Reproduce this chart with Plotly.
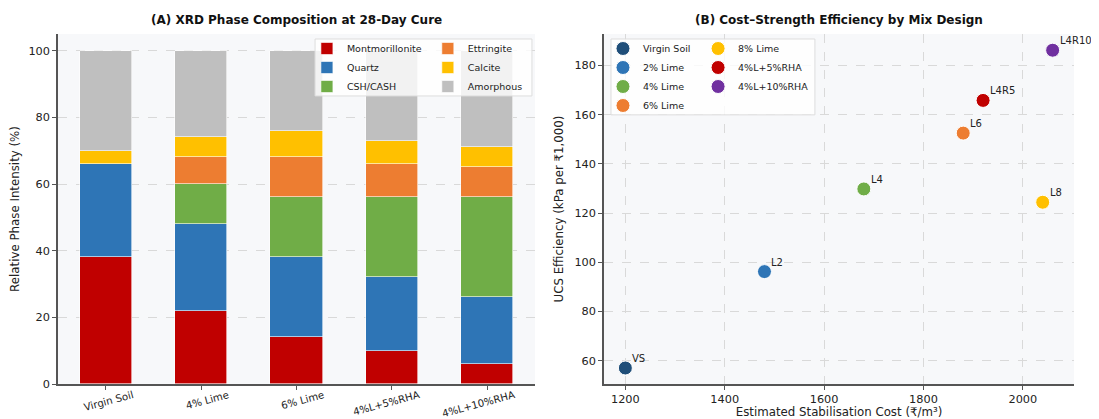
import plotly.graph_objects as go

# ---------------- Data ----------------
mixes = ["Virgin Soil", "4% Lime", "6% Lime", "4%L+5%RHA", "4%L+10%RHA"]
phase_names = ["Montmorillonite", "Quartz", "CSH/CASH", "Ettringite", "Calcite", "Amorphous"]
montmorillonite = [38, 22, 14, 10, 6]
quartz = [28, 26, 24, 22, 20]
csh_cash = [0, 12, 18, 24, 30]
ettringite = [0, 8, 12, 10, 9]
calcite = [4, 6, 8, 7, 6]
amorphous = [30, 26, 24, 27, 29]
phase_colors = ["#c00000", "#2e75b6", "#70ad47", "#ed7d31", "#ffc000", "#bfbfbf"]

design_names = ["Virgin Soil", "2% Lime", "4% Lime", "6% Lime", "8% Lime", "4%L+5%RHA", "4%L+10%RHA"]
design_codes = ["VS", "L2", "L4", "L6", "L8", "L4R5", "L4R10"]
cost = [1200, 1480, 1680, 1880, 2040, 1920, 2060]
ucs_eff = [57.0, 96.2, 129.8, 152.5, 124.4, 165.8, 186.2]
design_colors = ["#1f4e79", "#2e75b6", "#70ad47", "#ed7d31", "#ffc000", "#c00000", "#7030a0"]

y_ticks_a = [0, 20, 40, 60, 80, 100]
x_ticks_b = [1200, 1400, 1600, 1800, 2000]
y_ticks_b = [60, 80, 100, 120, 140, 160, 180]

FONT = "DejaVu Sans"
AXIS_COL = "#555555"
GRID_COL = "#d9d9d9"
BG = "#f7f8fa"
TICK_FONT = dict(family=FONT, size=11.3, color="#222222")
TITLE_FONT = dict(family=FONT, size=11.8, color="#222222")

fig = go.Figure()

phase_values = [montmorillonite, quartz, csh_cash, ettringite, calcite, amorphous]
for i, (name, vals, col) in enumerate(zip(phase_names, phase_values, phase_colors)):
    fig.add_trace(go.Bar(
        x=list(range(len(mixes))), y=vals, name=name,
        marker=dict(color=col, line=dict(width=0.6, color="white")),
        width=0.55, xaxis="x", yaxis="y",
        legend="legend" if i < 3 else "legend2",
    ))

for i, (nm, cx, cy, col) in enumerate(zip(design_names, cost, ucs_eff, design_colors)):
    fig.add_trace(go.Scatter(
        x=[cx], y=[cy], mode="markers", name=nm,
        marker=dict(size=14, color=col, line=dict(width=1, color="white")),
        xaxis="x2", yaxis="y2",
        legend="legend3" if i < 4 else "legend4",
    ))

annotations = []
for code, cx, cy in zip(design_codes, cost, ucs_eff):
    annotations.append(dict(
        x=cx, y=cy, xref="x2", yref="y2", text=code, showarrow=False,
        xanchor="left", yanchor="bottom", xshift=5, yshift=2,
        font=dict(family=FONT, size=10, color="#222222"),
    ))

annotations += [
    dict(text="<b>(A) XRD Phase Composition at 28-Day Cure</b>", x=0.2347, y=1.0, xref="paper", yref="paper",
         xanchor="center", yanchor="bottom", yshift=5, showarrow=False,
         font=dict(family=FONT, size=12, color="#111111")),
    dict(text="<b>(B) Cost–Strength Efficiency by Mix Design</b>", x=0.7687, y=1.0, xref="paper", yref="paper",
         xanchor="center", yanchor="bottom", yshift=5, showarrow=False,
         font=dict(family=FONT, size=12, color="#111111")),
]

axis_common = dict(
    showline=True, linecolor=AXIS_COL, linewidth=1.5, mirror=False,
    ticks="outside", ticklen=4, tickcolor=AXIS_COL, tickwidth=1,
    zeroline=False, automargin=False,
)

legend_common = dict(
    bgcolor="rgba(0,0,0,0)", borderwidth=0,
    font=dict(family=FONT, size=9.5, color="#222222"),
    xanchor="left", yanchor="top", xref="paper", yref="paper",
    tracegroupgap=0, itemwidth=30, traceorder="normal",
)

# the page body has an 8px margin, so the figure is drawn 8px smaller
fig.update_layout(
    width=1091, height=411,
    margin=dict(l=50, r=25, t=26, b=35, autoexpand=False),
    paper_bgcolor="white", plot_bgcolor=BG,
    barmode="stack", bargap=0,
    font=dict(family=FONT, size=10, color="#222222"),
    xaxis=dict(domain=[0, 0.4695], range=[-0.5025, 4.5025],
               tickmode="array", tickvals=list(range(len(mixes))), ticktext=mixes,
               tickangle=-15, ticklabelshift=27, ticklabelstandoff=-4, showgrid=False,
               tickfont=dict(family=FONT, size=10.2, color="#222222"), **axis_common),
    yaxis=dict(range=[0, 105], tickvals=y_ticks_a, showgrid=True, gridcolor=GRID_COL,
               griddash="dash", gridwidth=0.8, tickfont=TICK_FONT,
               title=dict(text="Relative Phase Intensity (%)", font=TITLE_FONT, standoff=10),
               **axis_common),
    xaxis2=dict(domain=[0.5374, 1], range=[1157, 2103], tickvals=x_ticks_b, showgrid=True,
                gridcolor=GRID_COL, griddash="dash", gridwidth=0.8, anchor="y2", tickfont=TICK_FONT,
                title=dict(text="Estimated Stabilisation Cost (₹/m³)", font=TITLE_FONT, standoff=4),
                **axis_common),
    yaxis2=dict(range=[50.5, 192.8], tickvals=y_ticks_b, showgrid=True, gridcolor=GRID_COL,
                griddash="dash", gridwidth=0.8, anchor="x2", tickfont=TICK_FONT,
                title=dict(text="UCS Efficiency (kPa per ₹1,000)", font=TITLE_FONT, standoff=8),
                **axis_common),
    legend=dict(x=0.245, y=1.0, **legend_common),
    legend2=dict(x=0.364, y=1.0, **legend_common),
    legend3=dict(x=0.5364, y=1.0, **legend_common),
    legend4=dict(x=0.630, y=1.0, **legend_common),
    annotations=annotations,
    shapes=[
        dict(type="rect", xref="paper", yref="paper", x0=0.253, x1=0.4665, y0=0.823, y1=0.9857,
             fillcolor="rgba(255,255,255,0.8)", line=dict(color="#dddddd", width=1), layer="above"),
        dict(type="rect", xref="paper", yref="paper", x0=0.5443, x1=0.745, y0=0.769, y1=0.9857,
             fillcolor="rgba(255,255,255,0.8)", line=dict(color="#dddddd", width=1), layer="above"),
    ],
    showlegend=True,
)

fig.write_html("out.html")
